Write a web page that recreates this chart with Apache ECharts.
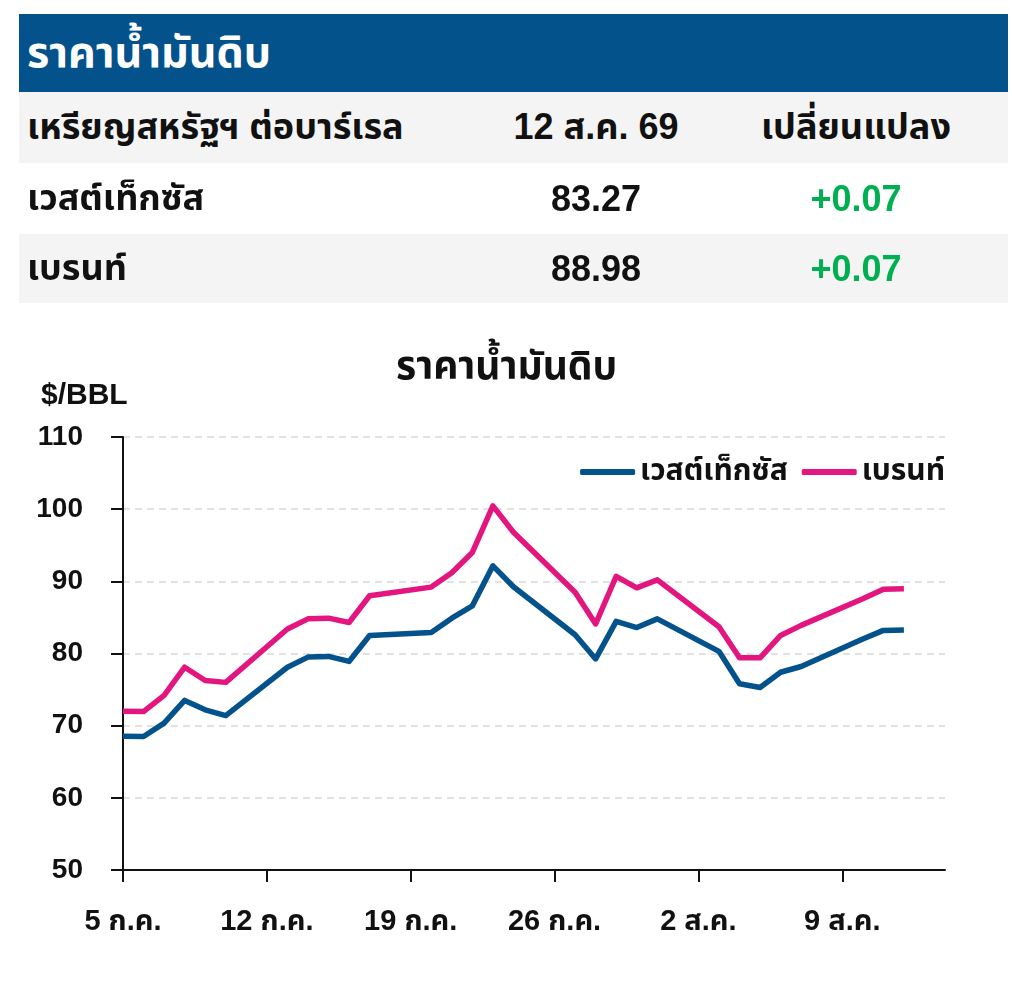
<!DOCTYPE html>
<html>
<head>
<meta charset="utf-8">
<script src="https://cdn.jsdelivr.net/npm/echarts@6/dist/echarts.min.js"></script>
<style>
  html, body { margin: 0; padding: 0; background: #fff; }
  body { width: 1012px; height: 993px; position: relative; overflow: hidden;
         font-family: "Liberation Sans", Arial, "Noto Sans Thai", sans-serif; }
  #chart { position: absolute; left: 0; top: 0; width: 1012px; height: 993px; }
  .bar { position: absolute; left: 19px; top: 14px; width: 989px; height: 78px; background: #04528b; }
  .row { position: absolute; left: 19px; width: 989px; }
  .gray { background: #f4f4f4; }
  .cell { position: absolute; top: 0; height: 100%; display: flex; align-items: center;
          font-weight: bold; font-size: 36px; color: #111; white-space: nowrap; }
  .title { color: #fff; font-size: 43px; left: 8px; }
  .c1 { left: 8px; }
  .c2 { left: 477px; width: 200px; justify-content: center; }
  .c3 { left: 737px; width: 200px; justify-content: center; }
  .green { color: #00b050; }
</style>
</head>
<body>
<div id="chart"></div>
<div class="bar"><div class="cell title" id="hdrTitle"></div></div>
<div class="row gray" style="top:92px;height:71px;">
  <div class="cell c1" id="h1"></div><div class="cell c2" id="h2"></div><div class="cell c3" id="h3"></div>
</div>
<div class="row" style="top:163px;height:71px;">
  <div class="cell c1" id="r1a"></div><div class="cell c2" id="r1b"></div><div class="cell c3 green" id="r1c"></div>
</div>
<div class="row gray" style="top:234px;height:69px;">
  <div class="cell c1" id="r2a"></div><div class="cell c2" id="r2b"></div><div class="cell c3 green" id="r2c"></div>
</div>
<script>
// ---- data ----
const headerTitle = 'ราคาน้ำมันดิบ';
const tableHeader = ['เหรียญสหรัฐฯ ต่อบาร์เรล', '12 ส.ค. 69', 'เปลี่ยนแปลง'];
const seriesNames = ['เวสต์เท็กซัส', 'เบรนท์'];
const latestValues = ['83.27', '88.98'];
const changeValues = ['+0.07', '+0.07'];

const dates = [
  '2026-07-05','2026-07-06','2026-07-07','2026-07-08','2026-07-09','2026-07-10',
  '2026-07-13','2026-07-14','2026-07-15','2026-07-16','2026-07-17',
  '2026-07-20','2026-07-21','2026-07-22','2026-07-23','2026-07-24',
  '2026-07-27','2026-07-28','2026-07-29','2026-07-30','2026-07-31',
  '2026-08-03','2026-08-04','2026-08-05','2026-08-06','2026-08-07',
  '2026-08-10','2026-08-11','2026-08-12'
];
const wti = [
  68.55, 68.5, 70.35, 73.5, 72.2, 71.4,
  78.1, 79.5, 79.6, 78.9, 82.5,
  82.9, 84.9, 86.6, 92.15, 89.25,
  82.6, 79.25, 84.45, 83.6, 84.8,
  80.3, 75.8, 75.3, 77.4, 78.2,
  82.0, 83.2, 83.27
];
const brent = [
  72.0, 71.95, 74.2, 78.1, 76.25, 76.0,
  83.4, 84.8, 84.9, 84.3, 88.0,
  89.2, 91.2, 94.0, 100.45, 96.8,
  88.5, 84.1, 90.7, 89.1, 90.2,
  83.7, 79.4, 79.4, 82.5, 83.9,
  87.6, 88.91, 88.98
];
const xTickLabels = ['5 ก.ค.', '12 ก.ค.', '19 ก.ค.', '26 ก.ค.', '2 ส.ค.', '9 ส.ค.'];
const chartTitle = 'ราคาน้ำมันดิบ';
const unitLabel = '$/BBL';

// ---- header table ----
document.getElementById('hdrTitle').textContent = headerTitle;
document.getElementById('h1').textContent = tableHeader[0];
document.getElementById('h2').textContent = tableHeader[1];
document.getElementById('h3').textContent = tableHeader[2];
document.getElementById('r1a').textContent = seriesNames[0];
document.getElementById('r1b').textContent = latestValues[0];
document.getElementById('r1c').textContent = changeValues[0];
document.getElementById('r2a').textContent = seriesNames[1];
document.getElementById('r2b').textContent = latestValues[1];
document.getElementById('r2c').textContent = changeValues[1];

// ---- chart ----
const DAY = 86400000;
const start = Date.UTC(2026, 6, 5);
function dayIndex(s) {
  const p = s.split('-').map(Number);
  return Math.round((Date.UTC(p[0], p[1] - 1, p[2]) - start) / DAY);
}
const wtiData = dates.map((d, i) => [dayIndex(d), wti[i]]);
const brentData = dates.map((d, i) => [dayIndex(d), brent[i]]);
const tickVals = xTickLabels.map((_, i) => i * 7);

const FONT = '"Liberation Sans", Arial, "Noto Sans Thai", sans-serif';
const chart = echarts.init(document.getElementById('chart'), null, { renderer: 'canvas' });
chart.setOption({
  animation: false,
  backgroundColor: 'transparent',
  textStyle: { fontFamily: FONT },
  grid: { left: 123, right: 67, top: 437, bottom: 123, containLabel: false },
  graphic: [
    { type: 'text', left: 396, top: 349,
      style: { text: chartTitle, font: 'bold 39px ' + FONT, fill: '#111' } },
    { type: 'text', left: 41, top: 381,
      style: { text: unitLabel, font: 'bold 30px ' + FONT, fill: '#111' } }
  ],
  legend: {
    right: 62, top: 452,
    itemWidth: 55, itemHeight: 6, itemGap: 14,
    icon: 'roundRect',
    textStyle: { fontSize: 30, fontWeight: 'bold', color: '#111', fontFamily: FONT },
    data: seriesNames
  },
  xAxis: {
    type: 'value', min: 0, max: 40, interval: 7,
    axisLine: { show: true, lineStyle: { color: '#111', width: 2 } },
    axisTick: { show: true, length: 12, lineStyle: { color: '#111', width: 2 }, customValues: tickVals },
    axisLabel: { customValues: tickVals, margin: 37, fontSize: 29, fontWeight: 'bold', color: '#111',
      fontFamily: FONT, formatter: v => xTickLabels[Math.round(v / 7)] || '' },
    splitLine: { show: false }
  },
  yAxis: {
    type: 'value', min: 50, max: 110, interval: 10,
    axisLine: { show: true, lineStyle: { color: '#111', width: 2 } },
    axisTick: { show: true, length: 12, lineStyle: { color: '#111', width: 2 } },
    axisLabel: { margin: 40, fontSize: 28, fontWeight: 'bold', color: '#111', fontFamily: FONT },
    splitLine: { show: true, lineStyle: { color: '#d9d9d9', type: [7, 5], width: 1.5 } }
  },
  series: [
    { name: seriesNames[0], type: 'line', data: wtiData, showSymbol: false, symbol: 'none',
      lineStyle: { color: '#04528b', width: 5.5, join: 'round' }, itemStyle: { color: '#04528b' } },
    { name: seriesNames[1], type: 'line', data: brentData, showSymbol: false, symbol: 'none',
      lineStyle: { color: '#e3157f', width: 5.5, join: 'round' }, itemStyle: { color: '#e3157f' } }
  ]
});
</script>
</body>
</html>
